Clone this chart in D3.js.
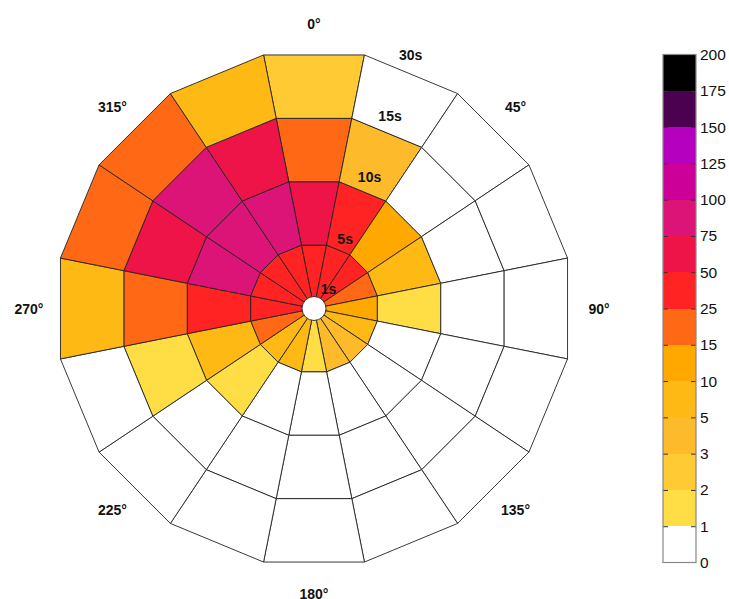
<!DOCTYPE html>
<html>
<head>
<meta charset="utf-8">
<script src="https://cdn.jsdelivr.net/npm/d3@7"></script>
<style>
  html, body { margin: 0; padding: 0; background: #fff; }
  svg { display: block; }
  text { font-family: "Liberation Sans", Arial, sans-serif; }
</style>
</head>
<body>
<svg id="chart" width="729" height="599"></svg>
<script>
// Wind-direction sectors (degrees clockwise from north)
const directions = [0, 22.5, 45, 67.5, 90, 112.5, 135, 157.5, 180, 202.5, 225, 247.5, 270, 292.5, 315, 337.5];
// Duration ring boundaries
const rings = ["1s", "5s", "10s", "15s", "30s"];
// Counts per ring (inner to outer), one value per direction
const ring1to5 =   [35, 35, 35, 20, 12, 7, 4, 4, 1.5, 7, 7, 20, 35, 35, 35, 35];
const ring5to10 =  [60, 35, 12, 7, 1.5, 0, 0, 0, 0, 0, 1.5, 7, 35, 85, 85, 85];
const ring10to15 = [20, 4, 0, 0, 0, 0, 0, 0, 0, 0, 0, 1.5, 20, 60, 85, 60];
const ring15to30 = [2.5, 0, 0, 0, 0, 0, 0, 0, 0, 0, 0, 0, 7, 20, 20, 7];
const ringValues = [ring1to5, ring5to10, ring10to15, ring15to30];

// Colour classes
const classBreaks = [0, 1, 2, 3, 5, 10, 15, 25, 50, 75, 100, 125, 150, 175, 200];
const classColors = ["#ffffff", "#ffdd44", "#ffca33", "#fdbb2b", "#ffb914", "#ffa800",
  "#ff6915", "#ff2323", "#ee1448", "#dd1478", "#cc0099", "#b500c0", "#4b0050", "#000000"];
const directionLabels = [0, 45, 90, 135, 180, 225, 270, 315];

const svg = d3.select("#chart");
const cx = 314, cy = 308.5;
const R = 258.5, hole = 12;

const color = d3.scaleThreshold()
  .domain(classBreaks.slice(1, -1))
  .range(classColors);

const angle = d3.scaleLinear().domain([0, 360]).range([0, 2 * Math.PI]);
const radius = d3.scalePoint().domain(rings).range([0, R]);
const halfStep = 11.25;

const g = svg.append("g").attr("transform", `translate(${cx},${cy})`);

const cellPath = d3.lineRadial()
  .angle(d => d[0])
  .radius(d => d[1])
  .curve(d3.curveLinearClosed);

const cells = [];
ringValues.forEach((vals, ri) => {
  const r0 = radius(rings[ri]), r1 = radius(rings[ri + 1]);
  vals.forEach((v, di) => {
    const a0 = angle(directions[di] - halfStep), a1 = angle(directions[di] + halfStep);
    cells.push({ v, pts: [[a0, r0], [a1, r0], [a1, r1], [a0, r1]] });
  });
});

g.selectAll("path.cell")
  .data(cells)
  .join("path")
  .attr("class", "cell")
  .attr("d", d => cellPath(d.pts))
  .attr("fill", d => color(d.v))
  .attr("stroke", "#222")
  .attr("stroke-width", 0.9)
  .attr("stroke-linejoin", "round");

g.append("circle")
  .attr("r", hole)
  .attr("fill", "#fff")
  .attr("stroke", "#222")
  .attr("stroke-width", 0.9);

// Ring labels along a ray just past the first sector boundary
const labelAngle = angle(18.5);
g.selectAll("text.ring")
  .data(rings)
  .join("text")
  .attr("class", "ring")
  .attr("x", d => (Math.max(radius(d), hole) + 9) * Math.sin(labelAngle))
  .attr("y", d => -(Math.max(radius(d), hole) + 9) * Math.cos(labelAngle))
  .attr("dominant-baseline", "central")
  .attr("text-anchor", "start")
  .attr("font-size", 14)
  .attr("font-weight", "bold")
  .attr("fill", "#111")
  .text(d => d);

// Compass labels
const labelR = 285;
g.selectAll("text.dir")
  .data(directionLabels)
  .join("text")
  .attr("class", "dir")
  .attr("x", d => labelR * Math.sin(angle(d)))
  .attr("y", d => -labelR * Math.cos(angle(d)))
  .attr("text-anchor", "middle")
  .attr("dominant-baseline", "central")
  .attr("font-size", 14)
  .attr("font-weight", "bold")
  .attr("fill", "#111")
  .text(d => d + "°");

// Colour bar
const cbX = 663, cbW = 33, cbTop = 54.5, cbBottom = 562.5;
const cbY = d3.scaleLinear().domain([0, classBreaks.length - 1]).range([cbBottom, cbTop]);
const cb = svg.append("g");

cb.selectAll("rect.band")
  .data(classColors)
  .join("rect")
  .attr("class", "band")
  .attr("x", cbX)
  .attr("y", (d, i) => cbY(i + 1))
  .attr("width", cbW)
  .attr("height", (d, i) => cbY(i) - cbY(i + 1))
  .attr("fill", d => d)
  .attr("shape-rendering", "crispEdges");

const tickIdx = d3.range(classBreaks.length);
const rightAxis = d3.axisRight(cbY)
  .tickValues(tickIdx)
  .tickSize(-5)
  .tickPadding(4)
  .tickFormat(i => classBreaks[i]);
const leftAxis = d3.axisLeft(cbY)
  .tickValues(tickIdx.slice(1, -1))
  .tickSize(-5)
  .tickFormat("");

const ra = cb.append("g").attr("transform", `translate(${cbX + cbW},0)`).call(rightAxis);
const la = cb.append("g").attr("transform", `translate(${cbX},0)`).call(leftAxis);
[ra, la].forEach(a => {
  a.select(".domain").remove();
  a.selectAll(".tick line").attr("stroke", "#333").attr("stroke-width", 1);
});
ra.selectAll(".tick text")
  .attr("font-size", 15.5)
  .attr("font-family", "'Liberation Sans', Arial, sans-serif")
  .attr("fill", "#111");
ra.selectAll(".tick").filter(i => i === 0 || i === classBreaks.length - 1).select("line").remove();

cb.append("rect")
  .attr("x", cbX)
  .attr("y", cbTop)
  .attr("width", cbW)
  .attr("height", cbBottom - cbTop)
  .attr("fill", "none")
  .attr("stroke", "#888")
  .attr("stroke-width", 1.2);
</script>
</body>
</html>
